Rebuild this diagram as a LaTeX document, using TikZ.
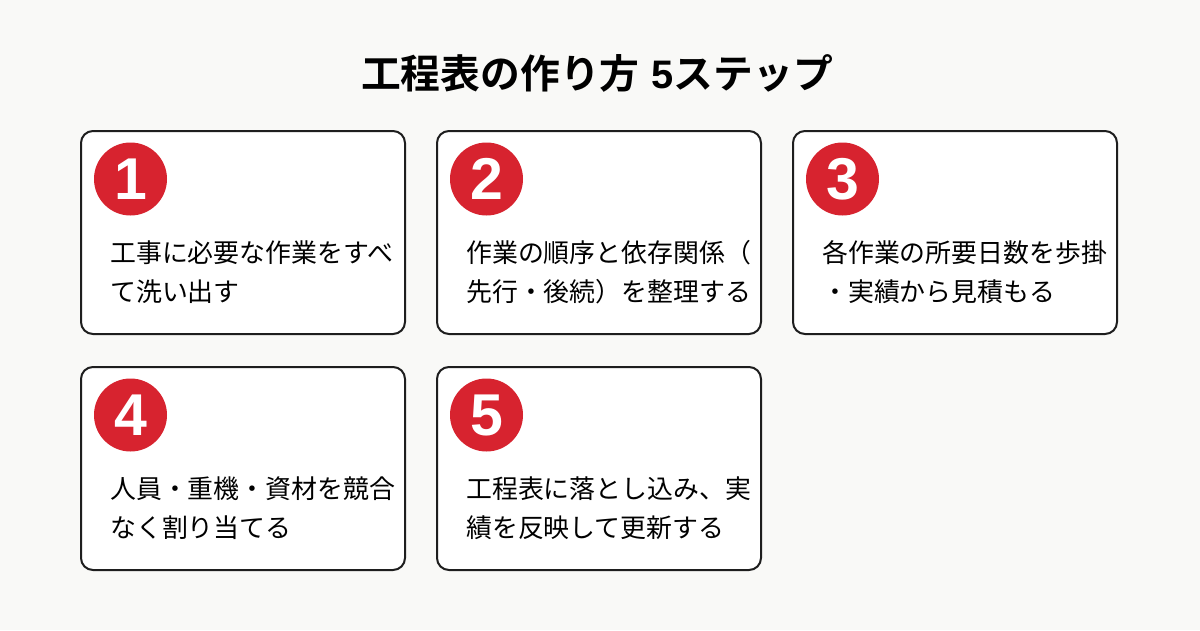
\documentclass[tikz,border=0pt]{standalone}
\usepackage{fontspec}
\setmainfont{Noto Sans CJK JP}
\newfontfamily\titlefont{Noto Sans CJK JP Bold}
\newfontfamily\digitfont{Liberation Sans Bold}
\definecolor{bg}{HTML}{F9F9F7}
\definecolor{stepred}{HTML}{D7232F}
\definecolor{edge}{HTML}{1E1E1E}
\tikzset{
  card/.style={draw=edge, line width=2pt, fill=white, rounded corners=12pt},
  badge/.style={circle, fill=stepred, minimum size=73pt, inner sep=0pt, text=white, font=\digitfont\fontsize{59}{59}\selectfont},
  body/.style={anchor=base west, inner sep=0pt, font=\fontsize{25.9}{30}\selectfont, text=black},
}
\begin{document}
\begin{tikzpicture}[x=1pt,y=-1pt]
\fill[bg] (0,0) rectangle (1200,630);
\useasboundingbox (0,0) rectangle (1200,630);
\node[anchor=base, inner sep=0pt, font=\titlefont\fontsize{39.8}{42}\selectfont] (title) at (597,88) {工程表の作り方\hspace{0.3em}{\digitfont 5}ステップ};
% cards
\newcommand{\stepcard}[6]{%
  \draw[card] (#1,#2) rectangle ++(324,203);
  \node[badge] (#3) at (#1+49.5,#2+48) {#4};
  \node[body] (#3a) at (#1+29,#2+131) {#5};
  \node[body] (#3b) at (#1+29,#2+170) {#6};
}
\stepcard{81}{131}{s1}{1}{工事に必要な作業をすべ}{て洗い出す}
\stepcard{437}{131}{s2}{2}{作業の順序と依存関係（}{先行・後続）を整理する}
\stepcard{793}{131}{s3}{3}{各作業の所要日数を歩掛}{・実績から見積もる}
\stepcard{81}{367}{s4}{4}{人員・重機・資材を競合}{なく割り当てる}
\stepcard{437}{367}{s5}{5}{工程表に落とし込み、実}{績を反映して更新する}
\end{tikzpicture}
\end{document}
